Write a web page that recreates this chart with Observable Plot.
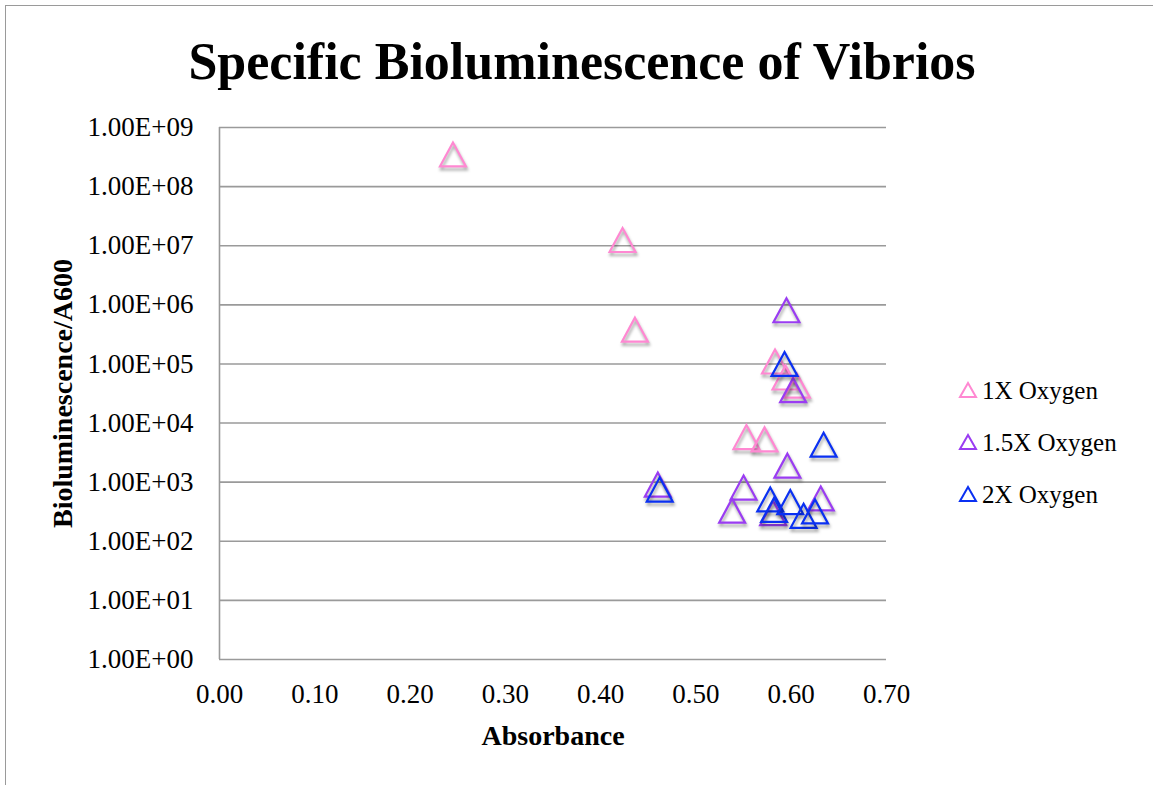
<!DOCTYPE html>
<html>
<head>
<meta charset="utf-8">
<script src="https://cdn.jsdelivr.net/npm/d3@7"></script>
<script src="https://cdn.jsdelivr.net/npm/@observablehq/plot@0.6"></script>
<style>
  html, body { margin: 0; padding: 0; background: #fff; overflow: hidden; }
  #wrap { position: relative; width: 1153px; height: 785px; font-family: "Liberation Serif", serif; color: #000; }
  #frame { position: absolute; left: 5px; top: 5px; width: 2000px; height: 2000px; border-left: 1.5px solid #9a9a9a; border-top: 1.5px solid #9a9a9a; }
  #title { position: absolute; left: 0; top: 36px; width: 1164px; text-align: center; font-size: 52px; line-height: 52px; font-weight: bold; white-space: nowrap; }
  #chart { position: absolute; left: 0; top: 0; }
  #legend { position: absolute; left: 958px; top: 364px; font-size: 25px; }
  #legend .row { display: flex; align-items: center; height: 52px; line-height: 1; }
  #legend svg { margin-right: 4px; }
  #chart g[aria-label="dot"] path { filter: drop-shadow(1px 3px 1.5px rgba(0,0,0,0.35)); }
</style>
</head>
<body>
<div id="wrap">
  <div id="frame"></div>
  <div id="chart"></div>
  <div id="title">Specific Bioluminescence of Vibrios</div>
  <div id="legend"></div>
</div>
<script>
// ---- data ----
const seriesNames = ["1X Oxygen", "1.5X Oxygen", "2X Oxygen"];
const seriesColors = ["#ff88d2", "#9a3cf2", "#0a30f2"];

const absorbance1X = [0.245, 0.423, 0.436, 0.583, 0.594, 0.606, 0.553, 0.572];
const biolum1X     = [3.5e8, 1.25e7, 3.8e5, 1.1e5, 5.9e4, 4.3e4, 5.8e3, 5.3e3];

const absorbance15X = [0.595, 0.602, 0.596, 0.460, 0.550, 0.538, 0.581, 0.631];
const biolum15X     = [8.1e5, 3.6e4, 1.9e3, 9.1e2, 8.1e2, 3.3e2, 3.0e2, 5.3e2];

const absorbance2X = [0.593, 0.634, 0.462, 0.578, 0.582, 0.599, 0.613, 0.625];
const biolum2X     = [1.0e5, 4.3e3, 7.5e2, 5.1e2, 3.4e2, 4.6e2, 2.7e2, 3.2e2];

const xTickValues = [0, 0.1, 0.2, 0.3, 0.4, 0.5, 0.6, 0.7];
const xTickLabels = ["0.00", "0.10", "0.20", "0.30", "0.40", "0.50", "0.60", "0.70"];
const yTickValues = [1, 1e1, 1e2, 1e3, 1e4, 1e5, 1e6, 1e7, 1e8, 1e9];
const yTickLabels = ["1.00E+00", "1.00E+01", "1.00E+02", "1.00E+03", "1.00E+04",
                     "1.00E+05", "1.00E+06", "1.00E+07", "1.00E+08", "1.00E+09"];

// ---- build table ----
const allX = [absorbance1X, absorbance15X, absorbance2X];
const allY = [biolum1X, biolum15X, biolum2X];
const points = [];
seriesNames.forEach((s, k) => {
  allX[k].forEach((x, i) => points.push({series: s, x, y: allY[k][i]}));
});

// triangle centred on its bounding box (like Excel markers)
const triangle = {
  draw(context, size) {
    const r = Math.sqrt(size / Math.PI);
    const w = r * 1.08;
    context.moveTo(0, -r);
    context.lineTo(w, r);
    context.lineTo(-w, r);
    context.closePath();
  }
};

const chart = Plot.plot({
  width: 1153,
  height: 785,
  marginLeft: 219,
  marginTop: 127,
  marginRight: 267,
  marginBottom: 126,
  style: {fontFamily: "Liberation Serif, serif", color: "#000", background: "transparent"},
  x: {domain: [0, 0.7]},
  y: {type: "log", domain: [1, 1e9]},
  color: {domain: seriesNames, range: seriesColors},
  marks: [
    Plot.ruleY(yTickValues, {stroke: "#9a9a9a", strokeWidth: 1.6}),
    Plot.ruleX([0], {stroke: "#9a9a9a", strokeWidth: 1.6}),
    Plot.axisY({ticks: yTickValues, tickFormat: d => yTickLabels[yTickValues.indexOf(d)],
                tickSize: 0, tickPadding: 26, fontSize: 27, label: null}),
    Plot.axisX({ticks: xTickValues, tickFormat: d => xTickLabels[xTickValues.indexOf(d)],
                tickSize: 0, tickPadding: 24, fontSize: 27, label: null}),
    Plot.axisY({ticks: [], tickSize: 0, label: "Bioluminescence/A600", labelAnchor: "center",
                labelOffset: 167, labelArrow: "none", fontSize: 28, fontWeight: "bold"}),
    Plot.axisX({ticks: [], tickSize: 0, label: "Absorbance", labelAnchor: "center",
                labelOffset: 85, labelArrow: "none", fontSize: 28, fontWeight: "bold"}),
    Plot.dot(points, {x: "x", y: "y", stroke: "series", symbol: triangle, r: 12,
                      strokeWidth: 2.2, fill: "none"})
  ]
});
document.getElementById("chart").appendChild(chart);

// ---- legend ----
const legend = document.getElementById("legend");
seriesNames.forEach((s, k) => {
  const row = document.createElement("div");
  row.className = "row";
  row.innerHTML = `<svg width="20" height="18" viewBox="0 0 20 18"><path d="M10,2 L18,16 L2,16 Z" fill="none" stroke="${seriesColors[k]}" stroke-width="2"/></svg><span>${s}</span>`;
  legend.appendChild(row);
});
</script>
</body>
</html>
